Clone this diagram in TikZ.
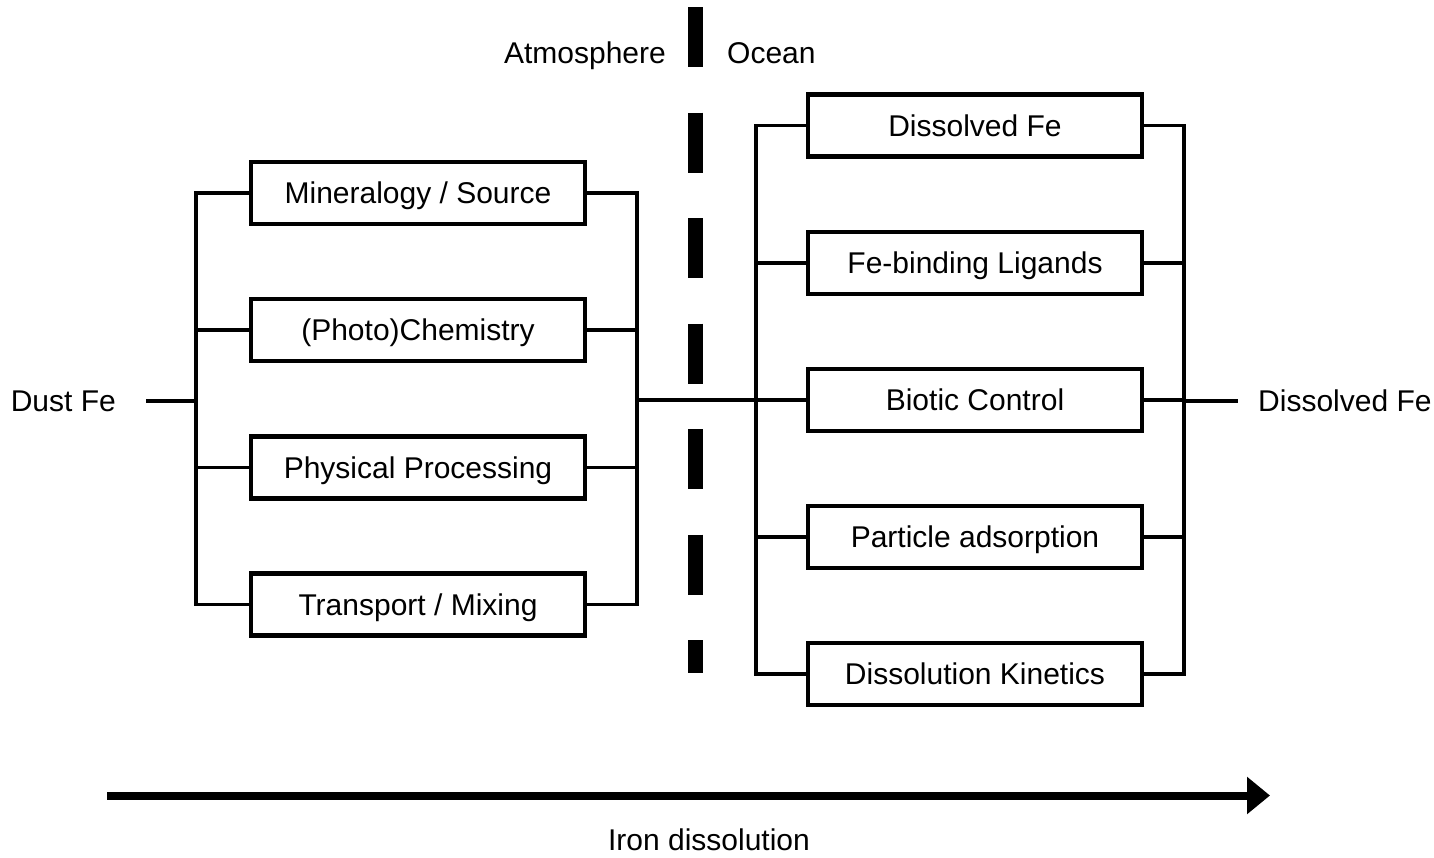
\documentclass[tikz,border=0pt]{standalone}
\usepackage{fontspec}
\setmainfont{Liberation Sans}
\usetikzlibrary{arrows.meta}
\tikzset{
  txt/.style={font=\fontsize{30}{36}\selectfont, text height=21.5pt, text depth=0pt},
  box/.style={txt, draw, line width=4.5pt, minimum width=334pt, minimum height=62pt, inner sep=0pt},
  lbl/.style={txt, inner sep=0pt},
  conn/.style={line width=3.2pt, line cap=rect},
  divider/.style={line width=15pt, dash pattern=on 60pt off 45.5pt, line cap=butt},
  bigarrow/.style={line width=8pt, -{Triangle[length=23pt, width=36pt]}}
}
\begin{document}
\begin{tikzpicture}[x=1pt, y=-1pt]
\useasboundingbox (0,0) rectangle (1434,857);
% left group
\node[box] (m) at (418,193) {Mineralogy / Source};
\node[box] (c) at (418,330) {(Photo)Chemistry};
\node[box] (p) at (418,467.5) {Physical Processing};
\node[box] (t) at (418,604.5) {Transport / Mixing};
% right group
\node[box] (d) at (975,125.5) {Dissolved Fe};
\node[box] (l) at (975,263) {Fe-binding Ligands};
\node[box] (b) at (975,400) {Biotic Control};
\node[box] (a) at (975,537) {Particle adsorption};
\node[box] (k) at (975,674) {Dissolution Kinetics};
% labels
\node[lbl, inner xsep=32pt, anchor=east] (dust) at (148,401) {Dust Fe};
\node[lbl, inner xsep=22pt, anchor=west] (out) at (1236,401) {Dissolved Fe};
\node[lbl, anchor=east] (atm) at (666,53) {Atmosphere};
\node[lbl, anchor=west] (oce) at (727,53) {Ocean};
\node[lbl] (iron) at (709,840) {Iron dissolution};
% bracket coordinates
\coordinate (lv) at (196,401);
\coordinate (rv) at (637,400);
\coordinate (rlv) at (756,400);
\coordinate (rrv) at (1184,401);
% left brackets
\draw[conn] (m.west) -| (lv |- t.west) -- (t.west);
\draw[conn] (c.west) -- (lv |- c.west);
\draw[conn] (p.west) -- (lv |- p.west);
\draw[conn] (dust.east) -- (lv);
\draw[conn] (m.east) -| (rv |- t.east) -- (t.east);
\draw[conn] (c.east) -- (rv |- c.east);
\draw[conn] (p.east) -- (rv |- p.east);
% middle link
\draw[conn] (rv) -- (b.west);
% right brackets
\draw[conn] (d.west) -| (rlv |- k.west) -- (k.west);
\draw[conn] (l.west) -- (rlv |- l.west);
\draw[conn] (a.west) -- (rlv |- a.west);
\draw[conn] (d.east) -| (rrv |- k.east) -- (k.east);
\draw[conn] (l.east) -- (rrv |- l.east);
\draw[conn] (b.east) -- (rrv |- b.east);
\draw[conn] (a.east) -- (rrv |- a.east);
\draw[conn] (rrv) -- (out.west);
% divider
\coordinate (dtop) at (695.5,7);
\coordinate (dbot) at (695.5,673);
\draw[divider] (dtop) -- (dbot);
% arrow
\coordinate (as) at (107,795.5);
\coordinate (ae) at (1270,795.5);
\draw[bigarrow] (as) -- (ae);
\end{tikzpicture}
\end{document}
